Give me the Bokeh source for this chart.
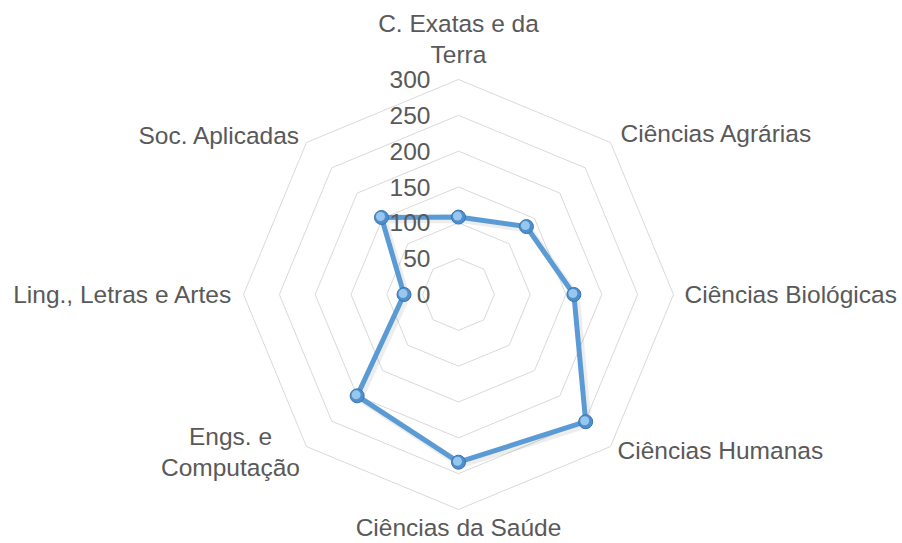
import numpy as np
from bokeh.plotting import figure
from bokeh.models import Range1d
from bokeh.core.properties import value
from bokeh.embed import file_html
from bokeh.resources import INLINE

categories = ["C. Exatas e da\nTerra", "Ciências Agrárias", "Ciências Biológicas",
              "Ciências Humanas", "Ciências da Saúde", "Engs. e\nComputação",
              "Ling., Letras e Artes", "Soc. Aplicadas"]
values = [108, 134, 161, 251, 234, 200, 76, 152]
tick_values = [0, 50, 100, 150, 200, 250, 300]
tick_labels = ["0", "50", "100", "150", "200", "250", "300"]

W, H = 900, 541
R_MAX = 300
PX = 215.0 / R_MAX          # pixels per unit
CX, CY = 458, 294           # centre in figure pixels (from top-left)

p = figure(width=W, height=H, output_backend="svg", toolbar_location=None,
           x_range=Range1d(-CX / PX, (W - CX) / PX),
           y_range=Range1d(-(H - CY) / PX, CY / PX),
           min_border=0, outline_line_color=None, background_fill_color="white")
p.axis.visible = False
p.grid.visible = False

n = len(categories)
theta = np.pi / 2 - np.arange(n) * 2 * np.pi / n
ct, st = np.cos(theta), np.sin(theta)

# grid rings
for r in tick_values[1:]:
    xs = list(r * ct) + [r * ct[0]]
    ys = list(r * st) + [r * st[0]]
    p.line(xs, ys, line_color="#d9d9d9", line_width=1)

# series
v = np.array(values, dtype=float)
sx, sy = v * ct, v * st
lx = list(sx) + [sx[0]]
ly = list(sy) + [sy[0]]
sh = 2.5 / PX
p.line([a + sh for a in lx], [b - sh for b in ly], line_color="#000000", line_alpha=0.07,
       line_width=7, line_join="round")
p.line(lx, ly, line_color="#5B9BD5", line_width=5, line_join="round")
p.scatter(sx, sy, size=14, fill_color="#4f8fcf", line_color="#3a74ad", line_width=1)
p.scatter(sx - 1 / PX, sy + 1 / PX, size=9, fill_color="#9fcdf0", line_color=None, fill_alpha=0.9)

FONT = value("Liberation Sans")
# tick labels
p.text(x=[-28 / PX] * len(tick_values), y=tick_values, text=tick_labels,
       text_font=FONT, text_font_size="24.5px", text_color="#595959",
       text_align="right", text_baseline="middle")

# category labels: offsets (px) from outer ring vertex
offs = [(0, -11, "center", "bottom"), (10, -9, "left", "middle"), (11, 0, "left", "middle"),
        (7, 4, "left", "middle"), (0, 18, "center", "middle"), (-76, 5, "center", "middle"),
        (-11, 0, "right", "middle"), (-6, -7, "right", "middle")]
for i, (dx, dy, al, bl) in enumerate(offs):
    p.text(x=[R_MAX * ct[i] + dx / PX], y=[R_MAX * st[i] - dy / PX], text=[categories[i]],
           text_font=FONT, text_font_size="24.5px", text_color="#595959",
           text_align=al, text_baseline=bl, text_line_height=1.15)

open("out.html", "w").write(file_html(p, INLINE))
